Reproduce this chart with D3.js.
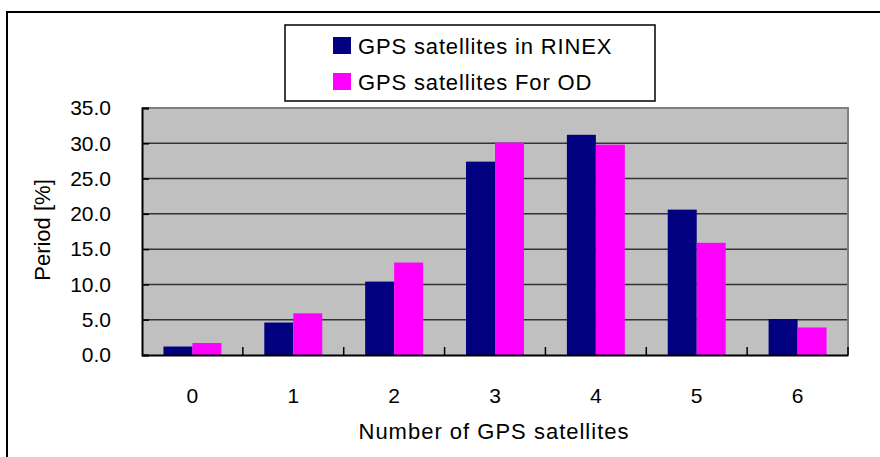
<!DOCTYPE html>
<html>
<head>
<meta charset="utf-8">
<script src="https://cdn.jsdelivr.net/npm/d3@7"></script>
<style>
  body { margin: 0; background: #fff; }
  text { font-family: "Liberation Sans", Arial, sans-serif; fill: #000; }
</style>
</head>
<body>
<svg id="chart"></svg>
<script>
// data
const categories = ["0", "1", "2", "3", "4", "5", "6"];
const seriesNames = ["GPS satellites in RINEX", "GPS satellites For OD"];
const rinex = [1.2, 4.6, 10.4, 27.4, 31.2, 20.6, 5.1];
const forOD = [1.7, 5.9, 13.1, 30.1, 29.8, 15.9, 3.9];
const yTicks = [0, 5, 10, 15, 20, 25, 30, 35];
const colors = ["#000080", "#ff00ff"];

const W = 880, H = 457;
const margin = {top: 108, right: 32, bottom: 102, left: 142};
const innerW = W - margin.left - margin.right;
const innerH = H - margin.top - margin.bottom;

const svg = d3.select("#chart").attr("width", W).attr("height", H);

// outer chart border (runs off the right / bottom edge)
svg.append("rect")
    .attr("x", 7).attr("y", 12)
    .attr("width", W).attr("height", H)
    .attr("fill", "none").attr("stroke", "#000").attr("stroke-width", 2);

const chart = svg.append("g")
    .attr("transform", `translate(${margin.left}, ${margin.top})`);

const x = d3.scaleBand().domain(categories).range([0, innerW]);
const xs = d3.scaleBand().domain(seriesNames).range([0, x.bandwidth()]).paddingOuter(0.74);
const y = d3.scaleLinear().domain([0, 35]).range([innerH, 0]);

// plot background
chart.append("rect")
    .attr("width", innerW).attr("height", innerH)
    .attr("fill", "#c0c0c0");

// gridlines
chart.selectAll(".grid")
    .data(yTicks.filter(d => d > 0 && d < 35))
    .enter().append("line")
    .attr("x1", 0).attr("x2", innerW)
    .attr("y1", d => y(d)).attr("y2", d => y(d))
    .attr("stroke", "#333").attr("stroke-width", 1.5);

// top and right border in gray
chart.append("path")
    .attr("d", `M0,${y(35)}H${innerW}V${innerH}`)
    .attr("fill", "none").attr("stroke", "#808080").attr("stroke-width", 2);

// bars
const rows = categories.map((c, i) => ({cat: c, values: [rinex[i], forOD[i]]}));
chart.selectAll(".grp")
    .data(rows)
    .enter().append("g")
    .attr("transform", d => `translate(${x(d.cat)}, 0)`)
    .selectAll("rect")
    .data(d => d.values.map((v, k) => ({name: seriesNames[k], v: v, k: k})))
    .enter().append("rect")
    .attr("x", d => xs(d.name))
    .attr("width", xs.bandwidth())
    .attr("y", d => y(d.v))
    .attr("height", d => innerH - y(d.v))
    .attr("fill", d => colors[d.k]);

// y axis
const yaxis = d3.axisLeft(y)
    .tickValues(yTicks)
    .tickFormat(d3.format(".1f"))
    .tickSize(-7)
    .tickPadding(31);
const yg = chart.append("g").call(yaxis);
yg.select(".domain").attr("stroke", "#000").attr("stroke-width", 2);
yg.selectAll(".tick line").attr("stroke", "#000").attr("stroke-width", 1.5);
yg.selectAll("text").style("font-size", "21px");

// x axis labels
const xaxis = d3.axisBottom(x).tickSize(0).tickPadding(33);
const xg = chart.append("g")
    .attr("transform", `translate(0, ${innerH})`)
    .call(xaxis);
xg.select(".domain").attr("stroke", "#000").attr("stroke-width", 2);
xg.selectAll("text").style("font-size", "21px");

// tick marks between categories, pointing up
const bounds = categories.slice(1).map(c => x(c)).concat([innerW]);
chart.selectAll(".xtick")
    .data(bounds)
    .enter().append("line")
    .attr("x1", d => d).attr("x2", d => d)
    .attr("y1", innerH).attr("y2", innerH - 8)
    .attr("stroke", "#000").attr("stroke-width", 1.5);

// axis titles
svg.append("text")
    .attr("x", 494).attr("y", 439)
    .attr("text-anchor", "middle")
    .style("font-size", "22px").style("letter-spacing", "1px")
    .text("Number of GPS satellites");

svg.append("text")
    .attr("transform", "translate(50, 230) rotate(-90)")
    .attr("text-anchor", "middle")
    .style("font-size", "22px")
    .text("Period [%]");

// legend
const legend = svg.append("g").attr("transform", "translate(285, 25)");
legend.append("rect")
    .attr("width", 370).attr("height", 76)
    .attr("fill", "#fff").attr("stroke", "#000").attr("stroke-width", 1.5);
const item = legend.selectAll(".item")
    .data(seriesNames)
    .enter().append("g")
    .attr("transform", (d, i) => `translate(48, ${12 + i * 36})`);
item.append("rect")
    .attr("width", 18).attr("height", 17)
    .attr("fill", (d, i) => colors[i]);
item.append("text")
    .attr("x", 25).attr("y", 17)
    .style("font-size", "22px").style("letter-spacing", "0.85px")
    .text(d => d);
</script>
</body>
</html>
